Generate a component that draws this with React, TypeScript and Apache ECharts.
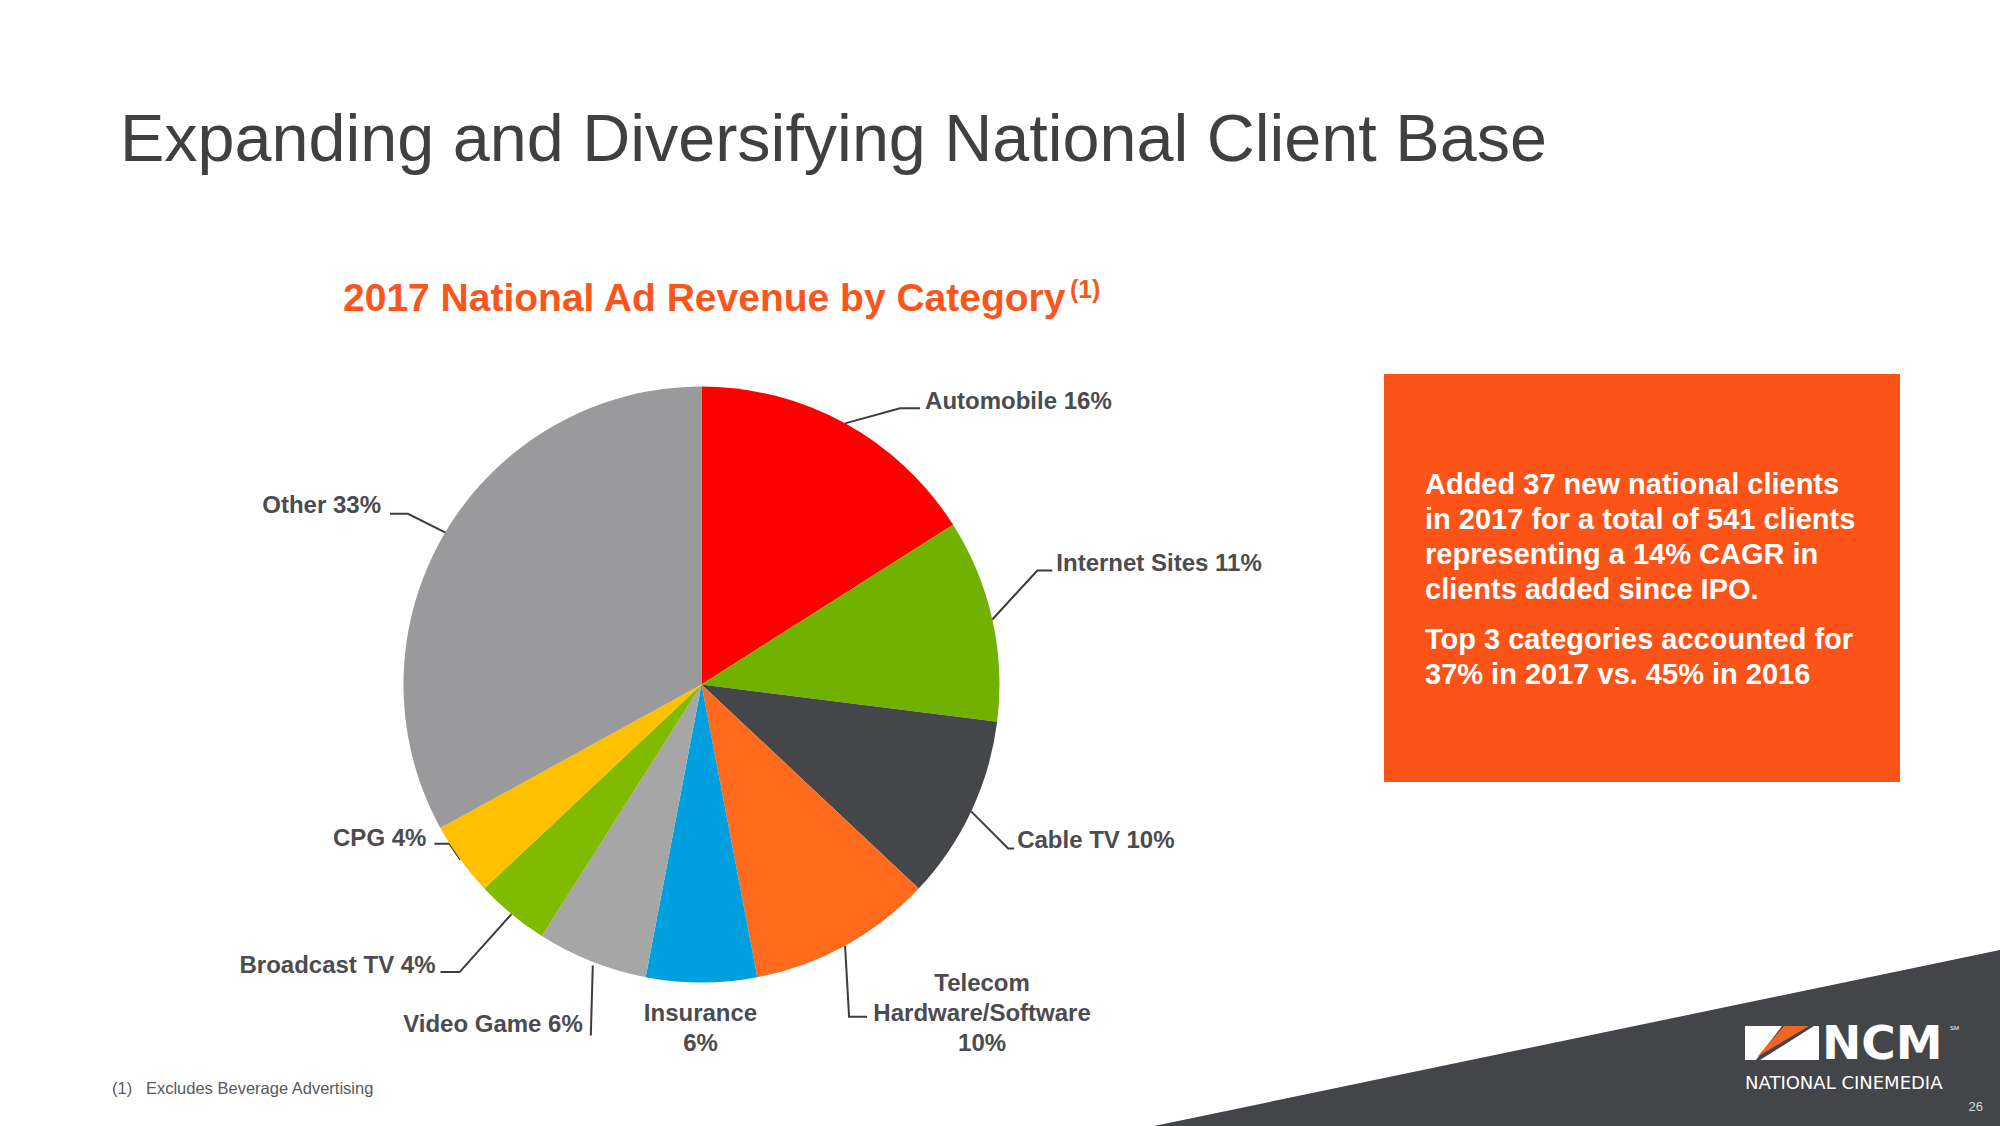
import React, { useEffect, useRef } from 'react';
import * as echarts from 'echarts';

// ---- data ----
const CATEGORIES = [
  'Automobile',
  'Internet Sites',
  'Cable TV',
  'Telecom\nHardware/Software',
  'Insurance',
  'Video Game',
  'Broadcast TV',
  'CPG',
  'Other',
];
const SHARES = [16, 11, 10, 10, 6, 6, 4, 4, 33];
const VALUE_ON_NEW_LINE = [false, false, false, true, true, false, false, false, false];

const TITLE = 'Expanding and Diversifying National Client Base';
const SUBTITLE = '2017 National Ad Revenue by Category';
const SUBTITLE_NOTE = '(1)';
const BOX_PARA_1 = [
  'Added 37 new national clients',
  'in 2017 for a total of 541 clients',
  'representing a 14% CAGR in',
  'clients added since IPO.',
];
const BOX_PARA_2 = ['Top 3 categories accounted for', '37% in 2017 vs. 45% in 2016'];
const FOOTNOTE = '(1)   Excludes Beverage Advertising';
const PAGE_NO = '26';

// ---- styles / layout ----
const COLORS = ['#FF0000', '#71B200', '#45464A', '#FF6A1C', '#009FDF', '#A6A6A6', '#80BB00', '#FFC000', '#9A999C'];
const NARROW = "'Liberation Sans Narrow', 'Arial Narrow', 'Liberation Sans', Arial, sans-serif";
const LABEL_COLOR = '#4B4B50';

// leader-line geometry, offsets relative to the library's own label anchor point
const LABEL_GUIDES: any[] = [
  { start: [0, 0], bend: [55, -15], end: [75, -15], text: [5, -8], align: 'left' },
  { start: [0, 0], bend: [45, -49], end: [60, -49], text: [4, -8], align: 'left' },
  { start: [0, 0], bend: [37, 37], end: [43, 37], text: [3, -9], align: 'left' },
  { start: [0, 0], bend: [4, 71], end: [22, 71], text: [115, -4], align: 'center' },
  { noLine: true, text: [-1, 45], align: 'center' },
  { start: [1, 4], bend: [-1, 74], end: [-1, 74], text: [-8, -12], align: 'right' },
  { start: [0, 0], bend: [-52, 58], end: [-71, 58], text: [-5, -8], align: 'right' },
  { start: [0, 0], bend: [-11, -16], end: [-26, -16], text: [-8, -6], align: 'right' },
  { start: [1, 0], bend: [-37, -19], end: [-55, -19], text: [-9, -9], align: 'right' },
];

function buildOption() {
  const data = CATEGORIES.map((name, i) => ({
    name,
    value: SHARES[i],
    itemStyle: { color: COLORS[i] },
    labelLine: LABEL_GUIDES[i].noLine ? { show: false } : undefined,
  }));

  const boxText = (lines: string[], top: number) => ({
    type: 'text',
    left: 1425,
    top,
    style: {
      text: lines.join('\n'),
      fill: '#FFFFFF',
      font: `bold 29px ${NARROW}`,
      lineHeight: 35,
    },
  });

  return {
    animation: false,
    backgroundColor: '#FFFFFF',
    title: [
      {
        text: TITLE,
        left: 120,
        top: 104,
        padding: 0,
        textStyle: { fontFamily: NARROW, fontSize: 66.5, fontWeight: 'normal', color: '#404042' },
      },
      {
        text: `{a|${SUBTITLE}}{s|${SUBTITLE_NOTE}}`,
        left: 343,
        top: 276,
        padding: 0,
        textStyle: {
          rich: {
            a: { fontFamily: NARROW, fontSize: 39, fontWeight: 'bold', color: '#F8561C' },
            s: {
              fontFamily: NARROW,
              fontSize: 25,
              fontWeight: 'bold',
              color: '#F8561C',
              padding: [0, 0, 17, 3],
            },
          },
        },
      },
    ],
    graphic: [
      {
        type: 'polygon',
        shape: { points: [[1154, 1126], [2000, 950], [2000, 1126]] },
        style: { fill: '#434549' },
        z: -1,
      },
      {
        type: 'rect',
        shape: { x: 1384, y: 374, width: 516, height: 408 },
        style: { fill: '#FB5318' },
      },
      boxText(BOX_PARA_1, 466),
      boxText(BOX_PARA_2, 621),
      {
        type: 'text',
        left: 112,
        top: 1079,
        style: { text: FOOTNOTE, fill: '#595959', font: `16.5px ${NARROW}` },
      },
      // NCM logo
      {
        type: 'polygon',
        shape: { points: [[1745, 1026], [1782, 1026], [1756, 1060], [1745, 1060]] },
        style: { fill: '#FFFFFF' },
      },
      {
        type: 'polygon',
        shape: { points: [[1784, 1026], [1809, 1026], [1757, 1057]] },
        style: { fill: '#F26522' },
      },
      {
        type: 'polygon',
        shape: { points: [[1814, 1026], [1819, 1026], [1819, 1060], [1760, 1060]] },
        style: { fill: '#FFFFFF' },
      },
      {
        type: 'text',
        x: 1822,
        y: 1042,
        style: {
          text: 'NCM',
          fill: '#FFFFFF',
          font: "bold 47px 'DejaVu Sans', 'Liberation Sans', sans-serif",
          lineHeight: 34,
          verticalAlign: 'middle',
        },
      },
      {
        type: 'text',
        x: 1950,
        y: 1025,
        style: { text: 'SM', fill: '#FFFFFF', font: "6px 'Liberation Sans', Arial, sans-serif" },
      },
      {
        type: 'text',
        x: 1745,
        y: 1082,
        style: {
          text: 'NATIONAL CINEMEDIA',
          fill: '#FFFFFF',
          font: "18px 'DejaVu Sans', sans-serif",
          lineHeight: 18,
          verticalAlign: 'middle',
        },
      },
      {
        type: 'text',
        x: 1983,
        y: 1106,
        style: {
          text: PAGE_NO,
          fill: '#D9D9D9',
          font: "13px 'Liberation Sans', Arial, sans-serif",
          align: 'right',
          verticalAlign: 'middle',
        },
      },
    ],
    series: [
      {
        type: 'pie',
        center: [701.5, 684.5],
        radius: 298,
        startAngle: 90,
        clockwise: true,
        avoidLabelOverlap: false,
        itemStyle: { borderWidth: 0 },
        label: {
          show: true,
          position: 'outside',
          color: LABEL_COLOR,
          fontFamily: NARROW,
          fontSize: 24,
          fontWeight: 'bold',
          lineHeight: 30,
          formatter: (p: any) =>
            VALUE_ON_NEW_LINE[p.dataIndex] ? `${p.name}\n${p.value}%` : `${p.name} ${p.value}%`,
        },
        labelLine: {
          show: true,
          length: 20,
          length2: 20,
          lineStyle: { color: '#3C3C3C', width: 2 },
        },
        labelLayout: (params: any) => {
          const g = LABEL_GUIDES[params.dataIndex];
          const pts = params.labelLinePoints;
          if (g.noLine || !pts || !pts.length) {
            const r = params.rect;
            return {
              x: r.x + r.width / 2 + g.text[0],
              y: r.y + r.height + g.text[1],
              align: g.align,
              verticalAlign: 'middle',
            };
          }
          const e = pts[0];
          const p0 = [e[0] + g.start[0], e[1] + g.start[1]];
          const p1 = [e[0] + g.bend[0], e[1] + g.bend[1]];
          const p2 = [e[0] + g.end[0], e[1] + g.end[1]];
          return {
            x: p2[0] + g.text[0],
            y: p2[1] + g.text[1],
            align: g.align,
            verticalAlign: 'middle',
            labelLinePoints: [p0, p1, p2],
          };
        },
        data,
      },
    ],
  };
}

export default function App() {
  const ref = useRef<HTMLDivElement>(null);
  useEffect(() => {
    document.body.style.margin = '0';
    const chart = echarts.init(ref.current!, null, { renderer: 'svg' });
    chart.setOption(buildOption() as any);
    return () => chart.dispose();
  }, []);
  return <div ref={ref} style={{ width: 2000, height: 1126 }} />;
}
